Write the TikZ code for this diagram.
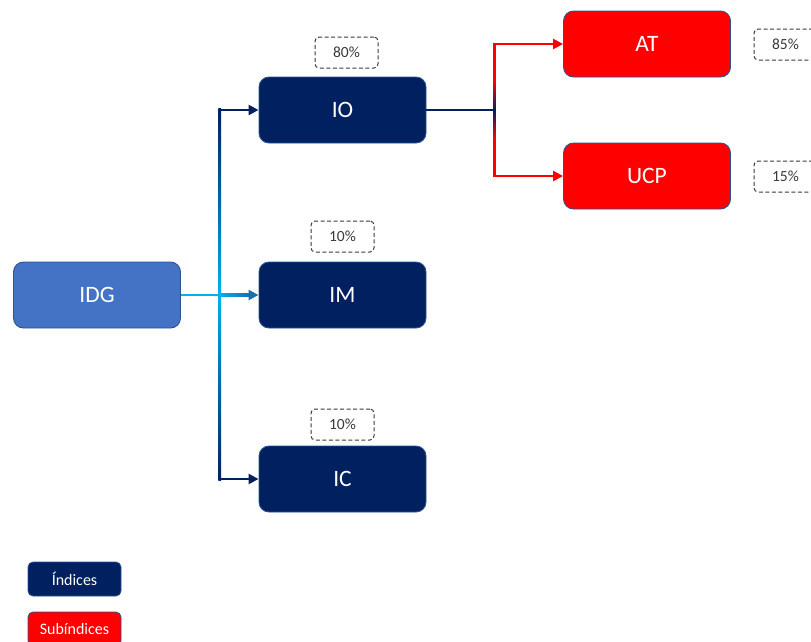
\documentclass[tikz,border=0pt]{standalone}
\usepackage{fontspec}
\setmainfont{Carlito}
\usetikzlibrary{arrows.meta,calc}
\definecolor{navy}{HTML}{002060}
\definecolor{idgblue}{HTML}{4472C4}
\definecolor{edgeblue}{HTML}{2F528F}
\definecolor{skyc}{HTML}{00B0F0}
\definecolor{midblue}{HTML}{1A6FAE}
\definecolor{pctgray}{HTML}{3A3A3A}
\definecolor{redf}{HTML}{FF0000}
\tikzset{
  box/.style={draw=edgeblue, line width=0.9pt, rounded corners=10pt, minimum width=167pt, minimum height=66pt, text=white, font=\fontsize{23.5}{26}\selectfont, inner sep=0pt},
  idx/.style={box, fill=navy},
  sub/.style={box, fill=redf},
  root/.style={box, fill=idgblue},
  pct/.style={draw=pctgray, dash pattern=on 4pt off 2.5pt, line width=1pt, rounded corners=4pt, minimum width=63pt, minimum height=31pt, text=pctgray, font=\fontsize{15.5}{18}\selectfont, inner sep=0pt, fill=white},
  legend/.style={draw=edgeblue, line width=0.8pt, rounded corners=5pt, minimum width=93pt, minimum height=34pt, text=white, font=\fontsize{16}{18}\selectfont, inner sep=0pt},
  conn/.style={line width=2.8pt},
  tip/.style={-{Triangle[length=10pt,width=10pt]}}
}
\begin{document}
\begin{tikzpicture}[x=1pt,y=-1pt]
\useasboundingbox (0,0) rectangle (811,641);
% nodes
\node[root] (IDG) at (97,295) {IDG};
\node[idx] (IO) at (342.5,110) {IO};
\node[idx] (IM) at (342.5,295) {IM};
\node[idx] (IC) at (342.5,479) {IC};
\node[sub] (AT) at (647,44) {AT};
\node[sub] (UCP) at (647,176) {UCP};
\node[pct] (p80) at (346.5,52.5) {80\%};
\node[pct] (p10a) at (342.5,236.5) {10\%};
\node[pct] (p10b) at (342.5,424.5) {10\%};
\node[pct] (p85) at (785.5,44.5) {85\%};
\node[pct] (p15) at (785.5,176.5) {15\%};
\node[legend, fill=navy] (lg1) at (74.5,579) {Índices};
\node[legend, fill=redf] (lg2) at (74.5,629) {Subíndices};
% left connectors
\coordinate (jx) at ($(IDG.east)!0.5!(IM.west)$);
\coordinate (jt) at (jx |- IO.west);
\coordinate (jb) at (jx |- IC.west);
\shade[top color=navy, bottom color=skyc] ($(jt)+(-1.4,-1.4)$) rectangle ($(jx)+(1.4,0)$);
\shade[top color=skyc, bottom color=navy] ($(jx)+(-1.4,0)$) rectangle ($(jb)+(1.4,1.4)$);
\draw[skyc, conn] (IDG.east) -- (jx);
\shade[left color=skyc, right color=midblue] ($(jx)+(0,-1.4)$) rectangle ($(IM.west)+(-9,1.4)$);
\draw[midblue, conn, tip] ($(IM.west)+(-10,0)$) -- (IM.west);
\draw[navy, conn, tip] ($(jt)+(-1.4,0)$) -- (IO.west);
\draw[navy, conn, tip] ($(jb)+(-1.4,0)$) -- (IC.west);
% right connectors
\coordinate (jr) at ($(IO.east)+(68,0)$);
\coordinate (jrt) at (jr |- AT.west);
\coordinate (jrb) at (jr |- UCP.west);
\draw[navy, conn] (IO.east) -- (jr);
\draw[redf, conn] ($(jrt)+(0,-1.4)$) -- ($(jr)+(0,-28)$);
\shade[top color=redf, bottom color=navy] ($(jr)+(-1.4,-28)$) rectangle ($(jr)+(1.4,0)$);
\shade[top color=navy, bottom color=redf] ($(jr)+(-1.4,0)$) rectangle ($(jr)+(1.4,28)$);
\draw[redf, conn] ($(jr)+(0,28)$) -- ($(jrb)+(0,1.4)$);
\draw[redf, conn, tip] ($(jrt)+(-1.4,0)$) -- (AT.west);
\draw[redf, conn, tip] ($(jrb)+(-1.4,0)$) -- (UCP.west);
\end{tikzpicture}
\end{document}
